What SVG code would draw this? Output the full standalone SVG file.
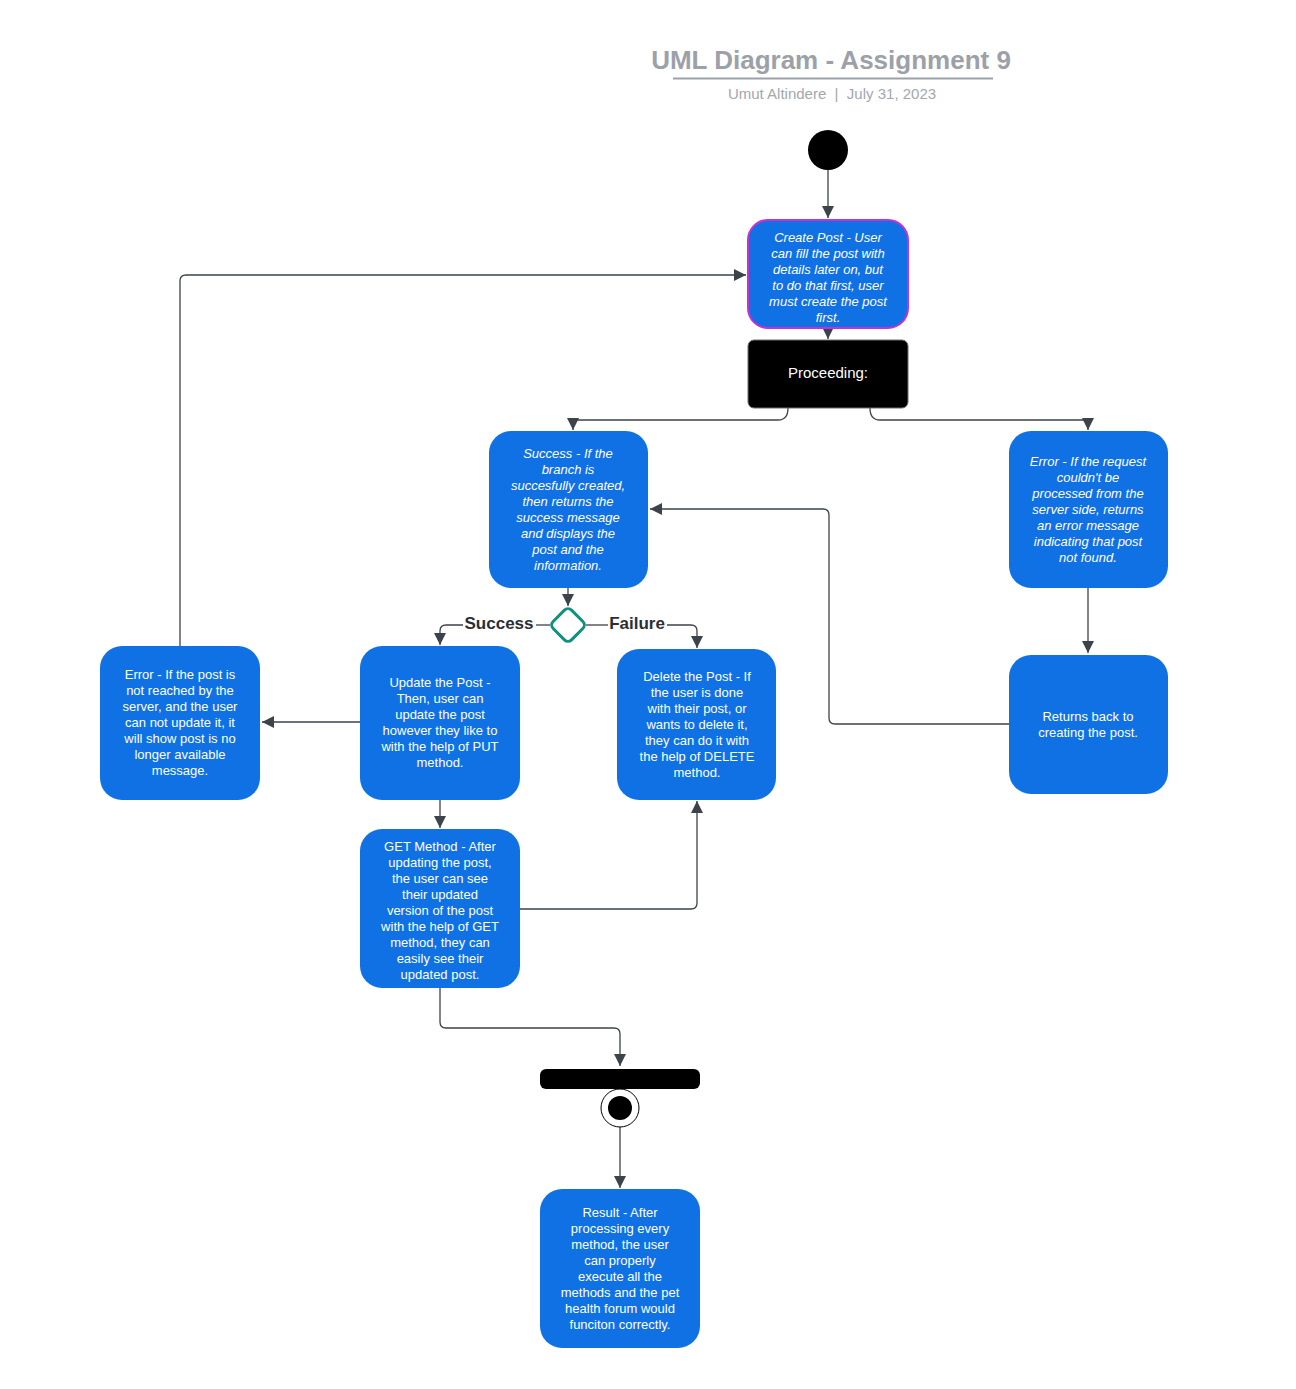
<svg xmlns="http://www.w3.org/2000/svg" width="1296" height="1389" viewBox="0 0 1296 1389">
<style>
.node{fill:#1071e5;}
.t{font-family:"Liberation Sans",Arial,sans-serif;font-size:13px;fill:#ffffff;text-anchor:middle;}
.i{font-style:italic;}
.c{fill:none;stroke:#3d434b;stroke-width:1.3;}
.lbl{font-family:"Liberation Sans",Arial,sans-serif;font-size:17px;font-weight:bold;fill:#2b2f35;text-anchor:middle;}
</style>
<defs>
<marker id="ah" viewBox="0 0 12 12" refX="12" refY="6" markerWidth="12" markerHeight="12" markerUnits="userSpaceOnUse" orient="auto">
<path d="M0,0 L12,6 L0,12 Z" fill="#3d434b"/>
</marker>
</defs>
<rect width="1296" height="1389" fill="#ffffff"/>
<g id="title">
<text x="831" y="69" font-family="Liberation Sans,Arial,sans-serif" font-size="26" font-weight="bold" fill="#9ca1a9" text-anchor="middle">UML Diagram - Assignment 9</text>
<line x1="673" y1="78.500" x2="993" y2="78.500" stroke="#9ca1a9" stroke-width="2"/>
<text x="832" y="99" font-family="Liberation Sans,Arial,sans-serif" font-size="15" fill="#a3a7ae" text-anchor="middle" style="white-space:pre">Umut Altindere  |  July 31, 2023</text>
</g>
<g id="connectors">
<path class="c" d="M828,170 V218" marker-end="url(#ah)"/>
<path class="c" d="M828,328 V339" marker-end="url(#ah)"/>
<path class="c" d="M788,408 Q788,420 778,420 H573 V430" marker-end="url(#ah)"/>
<path class="c" d="M870,408 Q870,420 880,420 H1088 V430" marker-end="url(#ah)"/>
<path class="c" d="M568,588 V606" marker-end="url(#ah)"/>
<path class="c" d="M550,625 H536"/>
<path class="c" d="M463,625 H446 Q440,625 440,631 V645" marker-end="url(#ah)"/>
<path class="c" d="M586,625 H608"/>
<path class="c" d="M667,625 H691 Q697,625 697,631 V648" marker-end="url(#ah)"/>
<path class="c" d="M360,722 H262" marker-end="url(#ah)"/>
<path class="c" d="M180,646 V281 Q180,275 186,275 H746" marker-end="url(#ah)"/>
<path class="c" d="M440,800 V828" marker-end="url(#ah)"/>
<path class="c" d="M520,909 H691 Q697,909 697,903 V801" marker-end="url(#ah)"/>
<path class="c" d="M440,988 V1022 Q440,1028 446,1028 H614 Q620,1028 620,1034 V1066" marker-end="url(#ah)"/>
<path class="c" d="M620,1127 V1188" marker-end="url(#ah)"/>
<path class="c" d="M1088,588 V653" marker-end="url(#ah)"/>
<path class="c" d="M1009,724 H835 Q829,724 829,718 V515 Q829,509 823,509 H650" marker-end="url(#ah)"/>
</g>
<g id="start"><circle cx="828" cy="150" r="20" fill="#000000"/></g>
<g id="create-post">
<rect x="748" y="220" width="160" height="108" rx="20" class="node" stroke="#c531d4" stroke-width="2"/>
<text class="t i" x="828" y="242">Create Post - User</text>
<text class="t i" x="828" y="258">can fill the post with</text>
<text class="t i" x="828" y="274">details later on, but</text>
<text class="t i" x="828" y="290">to do that first, user</text>
<text class="t i" x="828" y="306">must create the post</text>
<text class="t i" x="828" y="322">first.</text>
</g>
<g id="proceeding">
<rect x="748" y="340" width="160" height="68" rx="6" fill="#000000" stroke="#6b6f75" stroke-width="1"/>
<text class="t" x="828" y="378" style="font-size:15px">Proceeding:</text>
</g>
<g id="success">
<rect x="489" y="431" width="159" height="157" rx="22" class="node"/>
<text class="t i" x="568" y="458">Success - If the</text>
<text class="t i" x="568" y="474">branch is</text>
<text class="t i" x="568" y="490">succesfully created,</text>
<text class="t i" x="568" y="506">then returns the</text>
<text class="t i" x="568" y="522">success message</text>
<text class="t i" x="568" y="538">and displays the</text>
<text class="t i" x="568" y="554">post and the</text>
<text class="t i" x="568" y="570">information.</text>
</g>
<g id="error-request">
<rect x="1009" y="431" width="159" height="157" rx="22" class="node"/>
<text class="t i" x="1088" y="466">Error - If the request</text>
<text class="t i" x="1088" y="482">couldn't be</text>
<text class="t i" x="1088" y="498">processed from the</text>
<text class="t i" x="1088" y="514">server side, returns</text>
<text class="t i" x="1088" y="530">an error message</text>
<text class="t i" x="1088" y="546">indicating that post</text>
<text class="t i" x="1088" y="562">not found.</text>
</g>
<g id="decision">
<rect x="555" y="612" width="26" height="26" rx="5" transform="rotate(45 568 625)" fill="#ffffff" stroke="#11917d" stroke-width="3"/>
<text class="lbl" x="499" y="629">Success</text>
<text class="lbl" x="637" y="629">Failure</text>
</g>
<g id="error-update">
<rect x="100" y="646" width="160" height="154" rx="22" class="node"/>
<text class="t" x="180" y="679">Error - If the post is</text>
<text class="t" x="180" y="695">not reached by the</text>
<text class="t" x="180" y="711">server, and the user</text>
<text class="t" x="180" y="727">can not update it, it</text>
<text class="t" x="180" y="743">will show post is no</text>
<text class="t" x="180" y="759">longer available</text>
<text class="t" x="180" y="775">message.</text>
</g>
<g id="update">
<rect x="360" y="646" width="160" height="154" rx="22" class="node"/>
<text class="t" x="440" y="687">Update the Post -</text>
<text class="t" x="440" y="703">Then, user can</text>
<text class="t" x="440" y="719">update the post</text>
<text class="t" x="440" y="735">however they like to</text>
<text class="t" x="440" y="751">with the help of PUT</text>
<text class="t" x="440" y="767">method.</text>
</g>
<g id="delete">
<rect x="617" y="649" width="159" height="151" rx="22" class="node"/>
<text class="t" x="697" y="681">Delete the Post - If</text>
<text class="t" x="697" y="697">the user is done</text>
<text class="t" x="697" y="713">with their post, or</text>
<text class="t" x="697" y="729">wants to delete it,</text>
<text class="t" x="697" y="745">they can do it with</text>
<text class="t" x="697" y="761">the help of DELETE</text>
<text class="t" x="697" y="777">method.</text>
</g>
<g id="returns">
<rect x="1009" y="655" width="159" height="139" rx="22" class="node"/>
<text class="t" x="1088" y="721">Returns back to</text>
<text class="t" x="1088" y="737">creating the post.</text>
</g>
<g id="get">
<rect x="360" y="829" width="160" height="159" rx="22" class="node"/>
<text class="t" x="440" y="851">GET Method - After</text>
<text class="t" x="440" y="867">updating the post,</text>
<text class="t" x="440" y="883">the user can see</text>
<text class="t" x="440" y="899">their updated</text>
<text class="t" x="440" y="915">version of the post</text>
<text class="t" x="440" y="931">with the help of GET</text>
<text class="t" x="440" y="947">method, they can</text>
<text class="t" x="440" y="963">easily see their</text>
<text class="t" x="440" y="979">updated post.</text>
</g>
<g id="join-bar"><rect x="540" y="1069" width="160" height="20" rx="6" fill="#000000"/></g>
<g id="end">
<circle cx="620" cy="1108" r="19" fill="#ffffff" stroke="#000000" stroke-width="1"/>
<circle cx="620" cy="1108" r="12" fill="#000000"/>
</g>
<g id="result">
<rect x="540" y="1189" width="160" height="159" rx="22" class="node"/>
<text class="t" x="620" y="1217">Result - After</text>
<text class="t" x="620" y="1233">processing every</text>
<text class="t" x="620" y="1249">method, the user</text>
<text class="t" x="620" y="1265">can properly</text>
<text class="t" x="620" y="1281">execute all the</text>
<text class="t" x="620" y="1297">methods and the pet</text>
<text class="t" x="620" y="1313">health forum would</text>
<text class="t" x="620" y="1329">funciton correctly.</text>
</g>
</svg>
